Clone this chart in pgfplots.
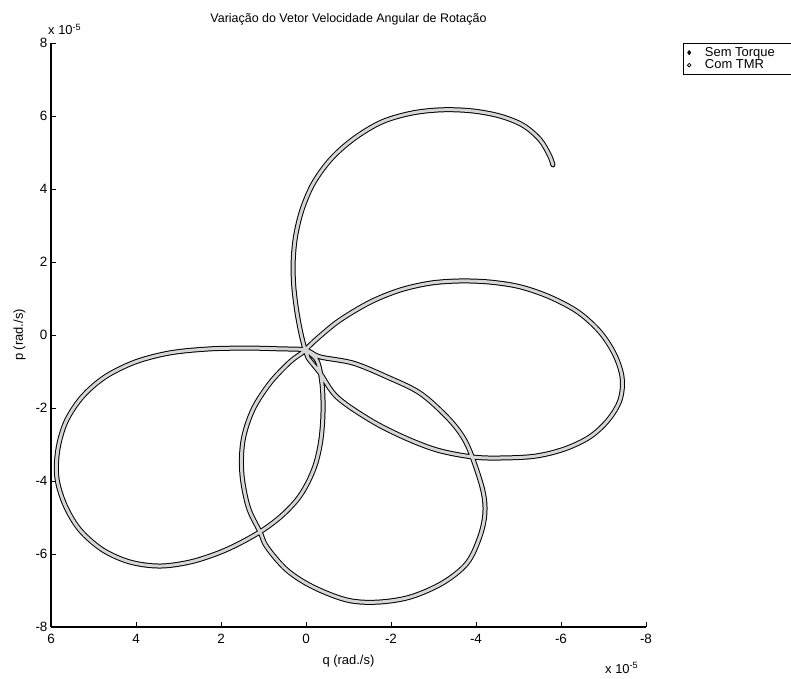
\documentclass[border=0pt]{standalone}
\usepackage{fontspec}
\setmainfont{Liberation Sans}
\usepackage{pgfplots}
\usepackage{pgfplotstable}
\pgfplotsset{compat=1.18}

% angular velocity trajectory (units of 1e-5 rad/s): q, p
\pgfplotstableread{
q p
0.02 -0.41
-0.26 -0.70
-0.38 -1.37
-0.40 -2.14
-0.35 -2.88
-0.23 -3.52
-0.04 -4.05
0.20 -4.50
0.57 -4.95
1.01 -5.34
1.55 -5.70
2.08 -5.98
2.73 -6.22
3.44 -6.33
4.14 -6.22
4.78 -5.89
5.32 -5.34
5.67 -4.66
5.86 -3.92
5.84 -3.15
5.65 -2.38
5.27 -1.70
4.73 -1.15
4.02 -0.74
3.20 -0.49
2.26 -0.38
1.32 -0.36
0.61 -0.38
0.02 -0.41
-0.33 -0.60
-1.11 -0.77
-1.91 -1.15
-2.68 -1.59
-3.32 -2.25
-3.69 -2.79
-3.91 -3.34
-4.16 -4.25
-4.21 -4.88
-4.09 -5.53
-3.79 -6.25
-3.22 -6.79
-2.45 -7.18
-1.67 -7.32
-0.96 -7.26
-0.16 -6.90
0.45 -6.44
0.92 -5.81
1.08 -5.40
1.36 -4.71
1.51 -3.78
1.48 -2.88
1.25 -2.05
0.85 -1.32
0.38 -0.74
0.09 -0.49
0.02 -0.41
-0.28 -0.08
-0.80 0.41
-1.51 0.90
-2.21 1.23
-2.92 1.42
-3.62 1.48
-4.33 1.45
-5.04 1.32
-5.74 1.04
-6.40 0.63
-6.92 0.08
-7.27 -0.55
-7.44 -1.18
-7.39 -1.78
-7.11 -2.33
-6.68 -2.79
-6.09 -3.12
-5.39 -3.32
-4.56 -3.37
-3.91 -3.34
-3.08 -3.15
-2.28 -2.79
-1.51 -2.33
-0.73 -1.70
-0.33 -1.04
-0.05 -0.63
0.02 -0.41
0.12 0.05
0.22 0.68
0.29 1.37
0.30 2.05
0.24 2.74
0.08 3.48
-0.19 4.19
-0.61 4.85
-1.15 5.40
-1.79 5.84
-2.49 6.08
-3.20 6.17
-3.91 6.14
-4.56 6.00
-5.10 5.75
-5.50 5.36
-5.73 4.92
-5.81 4.66
}\trajectory

\begin{document}
\begin{tikzpicture}
\begin{axis}[
  at={(0,0)}, anchor=south west,
  scale only axis, width=595bp, height=584bp,
  xmin=-8, xmax=6, ymin=-8, ymax=8,
  x dir=reverse,
  axis x line*=bottom, axis y line*=left,
  axis line style={line width=1.1pt, black},
  xtick={-8,-6,...,6}, ytick={-8,-6,...,8},
  tick align=inside, major tick length=5bp,
  tick style={line width=0.9pt, black},
  /pgf/number format/assume math mode=true,
  ticklabel style={font=\fontsize{13.5}{15}\selectfont},
  xticklabel style={yshift=-4bp},
  xlabel={q (rad./s)}, ylabel={p (rad./s)},
  xlabel style={yshift=-4bp},
  ylabel style={yshift=3bp},
  label style={font=\fontsize{13}{15}\selectfont},
  title={Varia\c{c}\~ao do Vetor Velocidade Angular de Rota\c{c}\~ao},
  title style={font=\fontsize{12.5}{14}\selectfont, yshift=8bp},
  legend style={at={(1.0622,1)}, anchor=north west, draw=black,
    line width=0.8pt, inner xsep=4bp, inner ysep=2bp, row sep=-2bp,
    column sep=12bp,
    font=\fontsize{13}{15}\selectfont, cells={anchor=west}},
  legend cell align=left,
]
\addplot[forget plot, black, line width=5bp, smooth, tension=0.55,
  line cap=round, line join=round] table {\trajectory};
\addplot[forget plot, gray!32, line width=3bp, smooth, tension=0.55,
  line cap=round, line join=round] table {\trajectory};
\addlegendimage{only marks, mark=diamond*, mark size=2bp, black}
\addlegendentry{\makebox[90bp][l]{Sem Torque}}
\addlegendimage{only marks, mark=o, mark size=1.8bp, black}
\addlegendentry{\makebox[90bp][l]{Com TMR}}
\end{axis}
\node[anchor=base west, inner sep=0, font=\fontsize{13}{15}\selectfont]
  at (-3bp,592bp) {x 10\textsuperscript{-5}};
\node[anchor=base west, inner sep=0, font=\fontsize{13}{15}\selectfont]
  at (554bp,-46bp) {x 10\textsuperscript{-5}};
\pgfresetboundingbox
\path (-51bp,-52bp) rectangle (740bp,627bp);
\end{tikzpicture}
\end{document}
